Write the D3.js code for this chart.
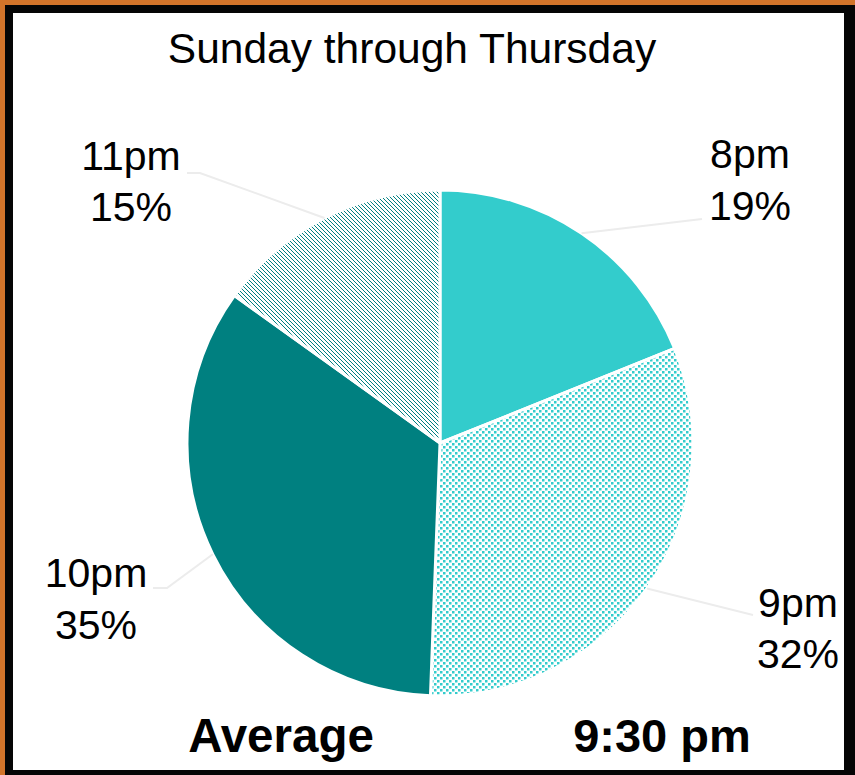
<!DOCTYPE html>
<html>
<head>
<meta charset="utf-8">
<script src="https://cdn.jsdelivr.net/npm/d3@7"></script>
<style>
  body { margin: 0; background: #fff; }
  svg text { font-family: "Liberation Sans", Arial, sans-serif; fill: #000; }
</style>
</head>
<body>
<svg id="chart" width="855" height="775"></svg>
<script>
////// data //////
var hours = ["8pm", "9pm", "10pm", "11pm"];
var shares = [18.9, 31.7, 34.3, 15.1];
var pctLabels = ["19%", "32%", "35%", "15%"];
var fills = ["solid-light", "dots-light", "solid-dark", "lines-dark"];
var titleText = "Sunday through Thursday";
var avgLabel = "Average";
var avgValue = "9:30 pm";
//////////

var light = "#33CCCC", dark = "#008080";

var svg = d3.select("#chart");

// frame: orange edge, black band, white card
svg.append("rect").attr("width", 855).attr("height", 775).attr("fill", "#D2742A");
svg.append("rect").attr("x", 5).attr("y", 5).attr("width", 850).attr("height", 770).attr("fill", "#050505");
svg.append("rect").attr("x", 13).attr("y", 13).attr("width", 831).attr("height", 757).attr("fill", "#fff");

// fill patterns
var defs = svg.append("defs");

var dots = defs.append("pattern")
    .attr("id", "dots-light")
    .attr("patternUnits", "userSpaceOnUse")
    .attr("width", 6).attr("height", 6);
dots.append("rect").attr("width", 6).attr("height", 6).attr("fill", "#fff");
dots.append("rect").attr("x", 0).attr("y", 0).attr("width", 2.5).attr("height", 2.5).attr("fill", light);
dots.append("rect").attr("x", 3).attr("y", 3).attr("width", 2.5).attr("height", 2.5).attr("fill", light);

var lines = defs.append("pattern")
    .attr("id", "lines-dark")
    .attr("patternUnits", "userSpaceOnUse")
    .attr("width", 4).attr("height", 4);
lines.append("rect").attr("width", 4).attr("height", 4).attr("fill", "#fff");
lines.append("path")
    .attr("d", "M-1,-1 L5,5 M-1,3 L1,5 M3,-1 L5,1")
    .attr("stroke", dark).attr("stroke-width", 1.1)
    .attr("shape-rendering", "crispEdges");

var fillFor = {
  "solid-light": light,
  "solid-dark": dark,
  "dots-light": "url(#dots-light)",
  "lines-dark": "url(#lines-dark)"
};

// pie
var cx = 440, cy = 443, radius = 253;

var rows = hours.map(function(h, i) {
  return { hour: h, value: shares[i], pct: pctLabels[i], fill: fills[i] };
});

var pie = d3.pie().sort(null).value(function(d) { return d.value; });
var arc = d3.arc().innerRadius(0).outerRadius(radius);
var edgeArc = d3.arc().innerRadius(radius).outerRadius(radius);

var g = svg.append("g").attr("transform", "translate(" + cx + "," + cy + ")");
var arcs = pie(rows);

g.selectAll("path.slice")
  .data(arcs)
  .enter().append("path")
    .attr("class", "slice")
    .attr("d", arc)
    .attr("fill", function(d) { return fillFor[d.data.fill]; })
    .attr("stroke", "#fff")
    .attr("stroke-width", 3)
    .attr("stroke-linejoin", "round");

// label layout (page coords): centre x, two baselines, leader end, optional elbow
var labelPos = {
  "8pm":  { x: 750, y1: 168, y2: 220, end: [702, 219] },
  "9pm":  { x: 798, y1: 617, y2: 668, end: [753, 615] },
  "10pm": { x: 96,  y1: 587, y2: 639, end: [153, 588], elbow: [167, 588] },
  "11pm": { x: 131, y1: 170, y2: 221, end: [187, 173], elbow: [200, 173] }
};

arcs.forEach(function(d) {
  var p = labelPos[d.data.hour];
  var c = edgeArc.centroid(d);
  var pts = [[cx + c[0], cy + c[1]]];
  if (p.elbow) pts.push(p.elbow);
  pts.push(p.end);
  svg.append("path")
    .attr("d", d3.line()(pts))
    .attr("fill", "none")
    .attr("stroke", "#ececec")
    .attr("stroke-width", 2);

  var t = svg.append("text")
    .attr("text-anchor", "middle")
    .attr("font-size", 41);
  t.append("tspan").attr("x", p.x).attr("y", p.y1).text(d.data.hour);
  t.append("tspan").attr("x", p.x).attr("y", p.y2).text(d.data.pct);
});

// title
svg.append("text")
  .attr("x", 412).attr("y", 63)
  .attr("text-anchor", "middle")
  .attr("font-size", 42.5)
  .text(titleText);

// bottom summary
svg.append("text")
  .attr("x", 281).attr("y", 752)
  .attr("text-anchor", "middle")
  .attr("font-size", 47.5)
  .attr("font-weight", "bold")
  .text(avgLabel);

svg.append("text")
  .attr("x", 662).attr("y", 752)
  .attr("text-anchor", "middle")
  .attr("font-size", 47)
  .attr("font-weight", "bold")
  .text(avgValue);
</script>
</body>
</html>
